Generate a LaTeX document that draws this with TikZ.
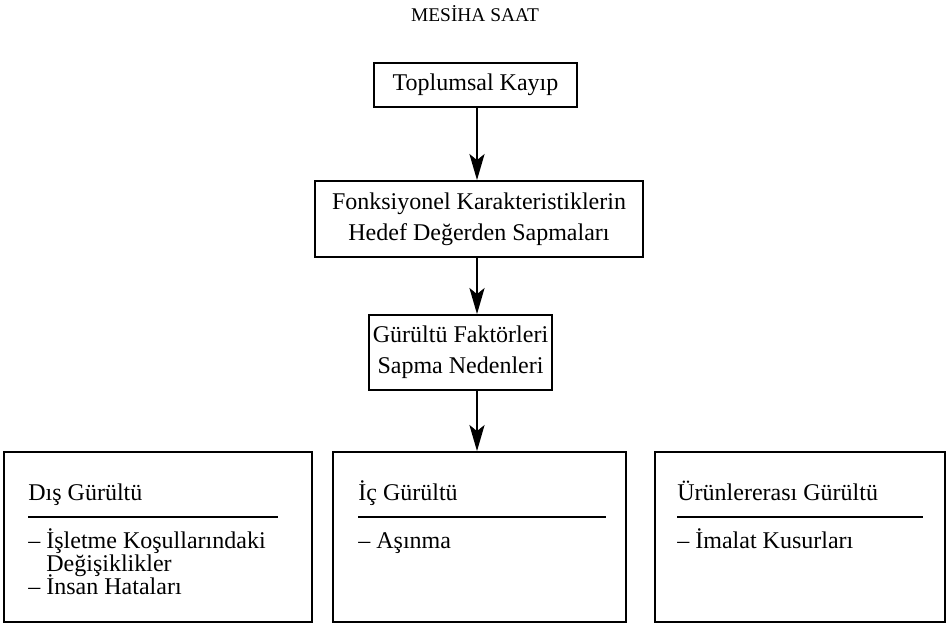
\documentclass[tikz,border=0pt]{standalone}
\usepackage{fontspec}
\setmainfont{Liberation Serif}
\usetikzlibrary{arrows.meta}

\tikzset{
  kutu/.style={draw, line width=0.9pt, inner sep=0pt, align=center,
    font=\fontsize{12}{15.5}\selectfont},
  akis/.style={line width=1.3pt, -{Stealth[length=13pt,width=7.5pt,inset=3pt]}},
  satir/.style={anchor=base west, inner sep=0pt, font=\fontsize{12}{14}\selectfont},
}

\begin{document}
\begin{tikzpicture}[x=0.5pt,y=0.5pt,yscale=-1,xscale=1]
\useasboundingbox (0,0) rectangle (948,627);

% Text Node
\draw (475,14) node (baslik) [font=\fontsize{9.7}{12}\selectfont] {MESİHA SAAT};

%Shape: Rectangle
\draw (475.5,85) node (kayip) [kutu, minimum width=101.5pt, minimum height=22pt] {Toplumsal Kayıp};
%Shape: Rectangle
\draw (479,219) node (sapma) [kutu, minimum width=164pt, minimum height=38pt] {Fonksiyonel Karakteristiklerin\\Hedef Değerden Sapmaları};
%Shape: Rectangle
\draw (460.5,352.5) node (neden) [kutu, minimum width=91.5pt, minimum height=37.5pt] {Gürültü Faktörleri\\Sapma Nedenleri};

%Shape: Rectangle
\draw (158,537) node (dis) [kutu, minimum width=154pt, minimum height=85pt] {};
%Shape: Rectangle
\draw (479.5,537) node (ic) [kutu, minimum width=146.5pt, minimum height=85pt] {};
%Shape: Rectangle
\draw (800,537) node (urun) [kutu, minimum width=145pt, minimum height=85pt] {};

%Straight Lines
\coordinate (ax) at (477,0);
\draw [akis] (kayip.south -| ax) -- (sapma.north -| ax);
\draw [akis] (sapma.south -| ax) -- (neden.north -| ax);
\draw [akis] (neden.south -| ax) -- (ic.north -| ax);

%Straight Lines
\draw [line width=0.9pt] (28,517) -- (278,517);
\draw [line width=0.9pt] (358,517) -- (606,517);
\draw [line width=0.9pt] (677,517) -- (923,517);

% Text Node
\draw (28,500) node (disT) [satir] {Dış Gürültü};
% Text Node
\draw (28,548) node (dis1) [satir] {-- İşletme Koşullarındaki};
% Text Node
\draw (28,571) node (dis2) [satir] {\hphantom{-- }Değişiklikler};
% Text Node
\draw (28,594) node (dis3) [satir] {-- İnsan Hataları};
% Text Node
\draw (358,500) node (icT) [satir] {İç Gürültü};
% Text Node
\draw (358,548) node (ic1) [satir] {-- Aşınma};
% Text Node
\draw (677,500) node (urunT) [satir] {Ürünlererası Gürültü};
% Text Node
\draw (677,548) node (urun1) [satir] {-- İmalat Kusurları};
\end{tikzpicture}
\end{document}
